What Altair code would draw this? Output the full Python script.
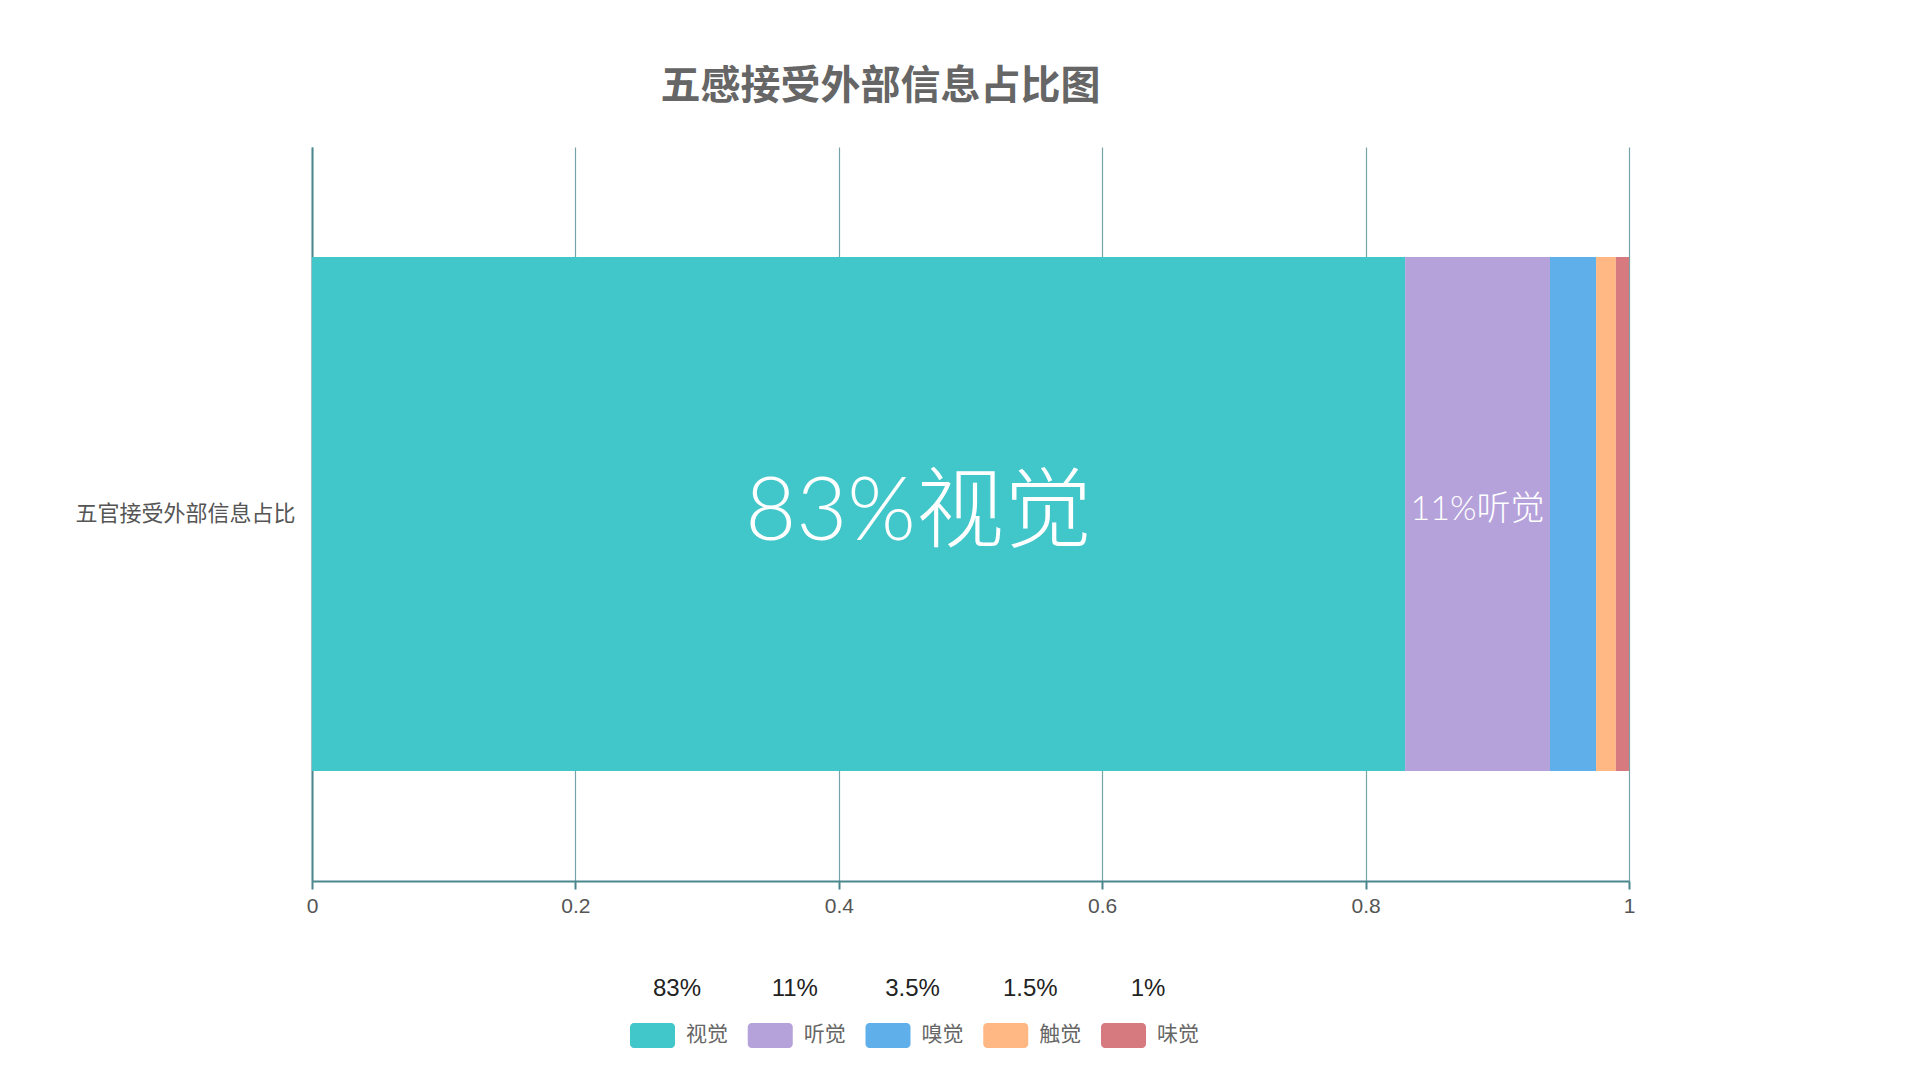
import altair as alt
import pandas as pd

group_name = "五官接受外部信息占比"
categories = ["视觉", "听觉", "嗅觉", "触觉", "味觉"]
values = [0.83, 0.11, 0.035, 0.015, 0.01]
pct_labels = ["83%", "11%", "3.5%", "1.5%", "1%"]
colors = ["#41c6c9", "#b6a2db", "#5fb0ea", "#ffb884", "#d77a80"]
x_ticks = [0, 0.2, 0.4, 0.6, 0.8, 1]

df = pd.DataFrame({
    "group": [group_name] * len(categories),
    "cat": categories,
    "value": values,
    "pct": pct_labels,
    "order": list(range(len(categories))),
})
df["end"] = df["value"].cumsum()
df["mid"] = df["end"] - df["value"] / 2
df["label"] = df["pct"] + df["cat"]

color_scale = alt.Scale(domain=categories, range=colors)
xscale = alt.Scale(domain=[0, 1], nice=False, zero=True)
yscale = alt.Scale(paddingInner=0.3, paddingOuter=0.15)

base = alt.Chart(df)

bars = base.mark_bar(size=514).encode(
    x=alt.X("value:Q", stack="zero", scale=xscale,
            axis=alt.Axis(values=x_ticks, format="~g", title=None)),
    y=alt.Y("group:N", scale=yscale, axis=alt.Axis(title=None)),
    color=alt.Color("cat:N", scale=color_scale, legend=None),
    order=alt.Order("order:Q"),
)

big_label = base.transform_filter(alt.datum.cat == "视觉").mark_text(
    font="Lato, Noto Sans CJK SC", fontSize=88, fontWeight=300, color="white",
    dx=60, baseline="middle", align="center"
).encode(
    x=alt.X("mid:Q", scale=xscale, title=None),
    y=alt.Y("group:N", scale=yscale, title=None),
    text="label:N",
)

small_label = base.transform_filter(alt.datum.cat == "听觉").mark_text(
    font="Lato, Noto Sans CJK SC", fontSize=34, fontWeight=300, color="white",
    baseline="middle", align="center", dy=-4
).encode(
    x=alt.X("mid:Q", scale=xscale, title=None),
    y=alt.Y("group:N", scale=yscale, title=None),
    text="label:N",
)

main = alt.layer(bars, big_label, small_label)

leg_x = alt.X("cat:N", sort=categories,
              scale=alt.Scale(type="point", range=[367, 838], padding=0),
              axis=None)

rounded = ("M-0.822,-0.556 L0.822,-0.556 A0.178,0.178 0 0 1 1,-0.378 "
           "L1,0.378 A0.178,0.178 0 0 1 0.822,0.556 L-0.822,0.556 "
           "A0.178,0.178 0 0 1 -1,0.378 L-1,-0.378 A0.178,0.178 0 0 1 -0.822,-0.556 Z")

leg_sym = base.mark_point(shape=rounded, size=2025, filled=True, opacity=1,
                          xOffset=-26.5).encode(
    x=leg_x,
    y=alt.value(888.5),
    color=alt.Color("cat:N", scale=color_scale, legend=None),
)

leg_text = base.mark_text(font="Noto Sans CJK SC", fontSize=21, color="#666666",
                          align="left", baseline="middle", dx=7).encode(
    x=leg_x,
    y=alt.value(888),
    text="cat:N",
)

leg_pct = base.mark_text(font="Liberation Sans", fontSize=24, color="#222222",
                         align="center", baseline="middle", dx=-2).encode(
    x=leg_x,
    y=alt.value(842),
    text="pct:N",
)

legend = alt.layer(leg_sym, leg_text, leg_pct)

chart = alt.layer(main, legend).resolve_scale(x="independent").properties(
    width=1317,
    height=734,
    autosize=alt.AutoSizeParams(type="none"),
    padding={"left": 304, "top": 139, "right": 250, "bottom": 170},
    title=alt.TitleParams(
        text="五感接受外部信息占比图",
        font="Noto Sans CJK SC", fontSize=40, fontWeight="bold",
        color="#666666", anchor="middle", dx=-90, offset=40,
    ),
).configure_view(strokeWidth=0).configure_axisX(
    grid=True, gridColor="#76a3a7", gridWidth=1.2,
    domainColor="#4b878d", domainWidth=2,
    tickColor="#4b878d", tickWidth=2, tickSize=8,
    labelFont="Liberation Sans", labelFontSize=21, labelColor="#555555",
    labelPadding=6, labelFlush=False,
).configure_axisY(
    grid=False, ticks=False, domainColor="#4b878d", domainWidth=2,
    labelFont="Noto Sans CJK SC", labelFontSize=22, labelColor="#555555",
    labelPadding=17, labelLimit=500,
)

chart.save("out.html", embed_options={"renderer": "svg", "actions": False})
